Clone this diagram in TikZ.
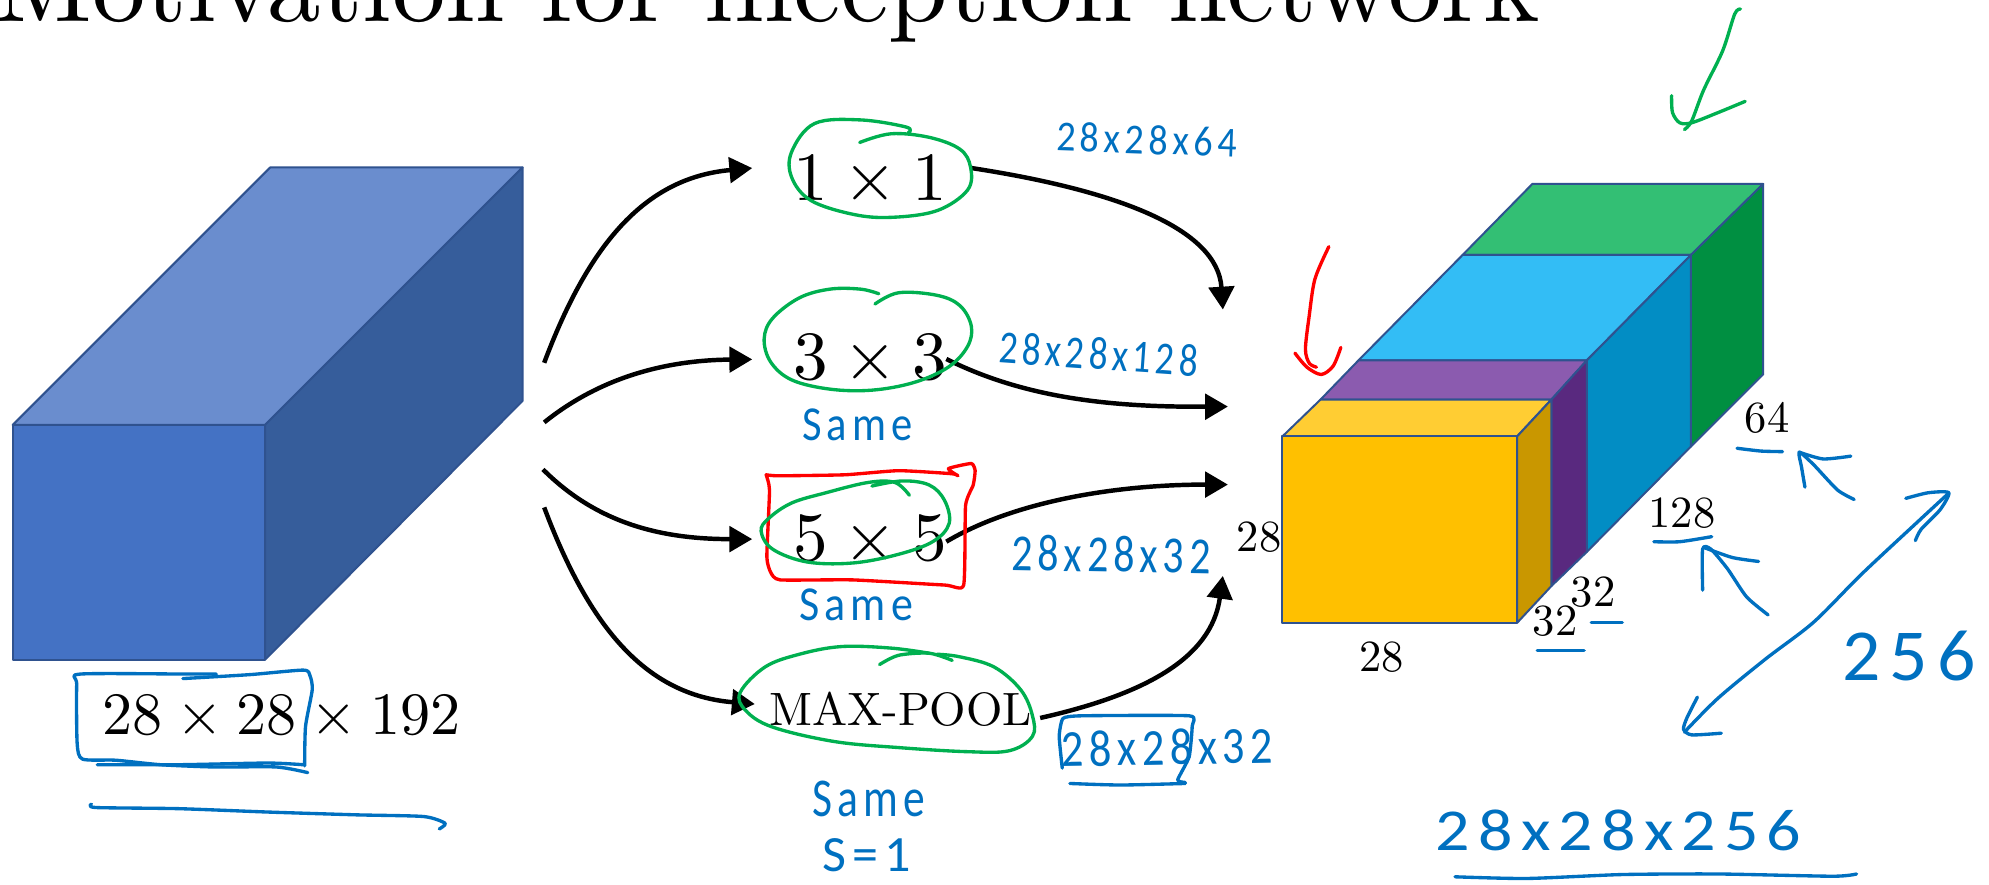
\documentclass[tikz,border=0pt]{standalone}
\usepackage{fontspec}
\usepackage{graphicx}
\usetikzlibrary{arrows.meta}
\newfontfamily\handwide[LetterSpace=12]{Carlito}
\newfontfamily\lmten{lmroman10-regular.otf}
\newcommand\bytimes{\hspace{.222em}×\hspace{.222em}}
\definecolor{edgeblue}{HTML}{2F528F}
\definecolor{inkblue}{HTML}{0070C0}
\definecolor{inkgreen}{HTML}{00B050}
\definecolor{inkred}{HTML}{FF0000}
\tikzset{
  face/.style={draw=edgeblue,line width=0.9pt,line join=round},
  flow/.style={draw=black,line width=2pt,-{Triangle[length=.36cm,width=.40cm]}},
  bluestroke/.style={draw=inkblue,line width=1.5pt,line cap=round,line join=round},
  greenstroke/.style={draw=inkgreen,line width=1.5pt,line cap=round,line join=round},
  redstroke/.style={draw=inkred,line width=1.5pt,line cap=round,line join=round},
  optext/.style={anchor=base,inner sep=0pt,font=\lmten\fontsize{31}{33}\selectfont},
  dimtext/.style={anchor=base,inner sep=0pt,font=\lmten\fontsize{20}{22}\selectfont},
  handtext/.style={inner sep=0pt,text=inkblue,font=\handwide},
  zoomone/.style={x=.00704cm,y=-.008888cm},
  zoomtwo/.style={shift={(551.8,63)},x=.006034cm,y=-.008086cm},
  zoomthree/.style={shift={(977.5,0)},x=.007532cm,y=-.008888cm},
}
\begin{document}
\begin{tikzpicture}[x=.02cm,y=-.02cm]
\path[use as bounding box] (0,0) rectangle (1568,697);
\clip (0,0) rectangle (1568,697);
\fill[white] (0,0) rectangle (1568,697);

\node[anchor=base west,inner sep=0pt,font=\lmten\fontsize{48}{50}\selectfont] (title) at (-5,17) {Motivation for inception network};

% input volume
\filldraw[face,fill={rgb,255:red,106;green,141;blue,206}] (10,335) -- (213,132) -- (412,132) -- (209,335) -- cycle;
\filldraw[face,fill={rgb,255:red,54;green,93;blue,155}] (209,335) -- (412,132) -- (412,316) -- (209,520) -- cycle;
\filldraw[face,fill={rgb,255:red,68;green,114;blue,196}] (10,335) rectangle (209,520);

% output volume
\filldraw[face,fill={rgb,255:red,51;green,191;blue,116}] (1153,201) -- (1208,145) -- (1390,145) -- (1333,201) -- cycle;
\filldraw[face,fill={rgb,255:red,0;green,143;blue,65}] (1333,201) -- (1390,145) -- (1390,295) -- (1333,352) -- cycle;
\filldraw[face,fill={rgb,255:red,51;green,189;blue,245}] (1071,284) -- (1153,201) -- (1333,201) -- (1251,284) -- cycle;
\filldraw[face,fill={rgb,255:red,2;green,141;blue,196}] (1251,284) -- (1333,201) -- (1333,352) -- (1251,435) -- cycle;
\filldraw[face,fill={rgb,255:red,139;green,91;blue,175}] (1041,315) -- (1071,284) -- (1251,284) -- (1223,315) -- cycle;
\filldraw[face,fill={rgb,255:red,89;green,41;blue,127}] (1223,315) -- (1251,284) -- (1251,435) -- (1223,462) -- cycle;
\filldraw[face,fill={rgb,255:red,255;green,205;blue,51}] (1011,344) -- (1041,315) -- (1223,315) -- (1196,344) -- cycle;
\filldraw[face,fill={rgb,255:red,201;green,151;blue,0}] (1196,344) -- (1223,315) -- (1223,462) -- (1196,491) -- cycle;
\filldraw[face,fill={rgb,255:red,255;green,192;blue,0}] (1011,344) rectangle (1196,491);

% printed labels
\node[optext,font=\lmten\fontsize{27}{30}\selectfont] (inlabel) at (222,579) {28\bytimes28\bytimes192};
\node[optext] (op1) at (686,158) {1\bytimes1};
\node[optext] (op3) at (686,299.5) {3\bytimes3};
\node[optext] (op5) at (686,442) {5\bytimes5};
\node[anchor=base,inner sep=0pt,font=\lmten\fontsize{21}{23}\selectfont] (pool) at (710,571.6) {MAX-POOL};
\node[dimtext] (dleft) at (992.6,434.6) {28};
\node[dimtext] (dbot) at (1089,529) {28};
\node[dimtext] (dthreeb) at (1226,501) {32};
\node[dimtext] (dthreet) at (1256,478) {32};
\node[dimtext] (dmid) at (1326,415.5) {128};
\node[dimtext] (dtop) at (1393,341) {64};

% connectors
\coordinate (s1) at (429,286);
\coordinate (s2) at (429,333);
\coordinate (s3) at (428,370);
\coordinate (s4) at (429,400);
\coordinate (t1) at (593,132.5);
\coordinate (t3) at (593,283.3);
\coordinate (t5) at (593,425);
\coordinate (tp) at (595,555);
\coordinate (o1) at (766,132.5);
\coordinate (o3) at (746,283);
\coordinate (o5) at (746,427);
\coordinate (op) at (820,566);
\coordinate (d1) at (964,244);
\coordinate (d3) at (968,320.5);
\coordinate (d5) at (968,382);
\coordinate (d4) at (964,454);
\draw[flow] (s1) .. controls (465,190) and (510,140) .. (t1);
\draw[flow] (s2) .. controls (470,300) and (520,284) .. (t3);
\draw[flow] (s3) .. controls (470,412) and (520,425) .. (t5);
\draw[flow] (s4) .. controls (465,496) and (510,548) .. (tp);
\draw[flow] (o1) .. controls (880,150) and (960,180) .. (d1);
\draw[flow] (o3) .. controls (810,315) and (880,321) .. (d3);
\draw[flow] (o5) .. controls (800,395) and (880,382) .. (d5);
\draw[flow] (op) .. controls (900,548) and (955,520) .. (d4);

% handwritten text
\node[handtext,rotate=-2] (h1) at (904,110) {\resizebox{2.84cm}{.46cm}{28x28x64}};
\node[handtext,rotate=-4] (h2) at (866,279) {\resizebox{3.14cm}{.5cm}{28x28x128}};
\node[handtext] (h3) at (676,335) {\resizebox{1.74cm}{.5cm}{Same}};
\node[handtext,rotate=-1] (h4) at (876,437) {\resizebox{3.14cm}{.56cm}{28x28x32}};
\node[handtext] (h5) at (675,477) {\resizebox{1.8cm}{.5cm}{Same}};
\node[handtext,rotate=1] (h6) at (920,589) {\resizebox{3.34cm}{.56cm}{28x28x32}};
\node[handtext] (h7) at (685,630) {\resizebox{1.78cm}{.56cm}{Same}};
\node[handtext] (h8) at (683,674) {\resizebox{1.4cm}{.52cm}{S=1}};
\node[handtext] (h9) at (1505,517) {\resizebox{2.1cm}{.78cm}{256}};
\node[handtext] (h10) at (1276,655) {\resizebox{5.76cm}{.64cm}{28x28x256}};

% ink, zoom 1 frame
\begin{scope}[zoomone]
\draw[bluestroke] plot[smooth,tension=.4] coordinates {(485,1197)(420,1197)(180,1197)(172,1215)(173,1320)(185,1348)(260,1350)(360,1358)(480,1362)(620,1362)(690,1372)};
\draw[bluestroke] plot[smooth,tension=.4] coordinates {(410,1205)(560,1198)(680,1190)(695,1200)(700,1225)(685,1290)(683,1360)};
\draw[bluestroke] plot[smooth,tension=.4] coordinates {(218,1358)(400,1358)(600,1355)(680,1358)};
\draw[bluestroke] plot[smooth,tension=.4] coordinates {(205,1428)(215,1434)(400,1436)(600,1442)(800,1447)(950,1450)(998,1462)(985,1472)};
\end{scope}

% ink, zoom 2 frame
\begin{scope}[zoomtwo]
\draw[greenstroke] plot[smooth,tension=.6] coordinates {(545,103)(540,92)(420,78)(300,85)(240,140)(240,190)(290,235)(400,262)(500,268)(620,255)(700,215)(708,170)(680,135)(600,112)(500,105)(418,122)};
\draw[greenstroke] plot[smooth,tension=.6] coordinates {(468,417)(420,408)(340,408)(260,425)(190,465)(168,505)(185,550)(240,585)(340,603)(450,605)(560,590)(650,560)(700,520)(710,480)(680,440)(620,420)(520,415)(458,437)};
\draw[redstroke] plot[smooth,tension=.3] coordinates {(173,770)(205,772)(380,770)(520,762)(660,768)(675,772)(650,758)(710,748)(720,762)(715,790)(695,830)(690,985)(640,985)(400,975)(210,975)(185,960)(175,930)(182,800)(173,770)};
\draw[greenstroke] plot[smooth,tension=.6] coordinates {(548,810)(510,785)(440,785)(330,805)(240,825)(180,855)(160,880)(190,915)(280,940)(400,942)(520,925)(610,900)(652,865)(640,820)(600,790)(530,782)(450,792)};
\draw[greenstroke] plot[smooth,tension=.6] coordinates {(600,1118)(500,1108)(370,1105)(260,1120)(170,1145)(105,1195)(120,1230)(190,1262)(350,1290)(520,1302)(700,1310)(810,1308)(870,1280)(870,1240)(840,1190)(770,1145)(680,1125)(620,1120)};
\draw[greenstroke] plot[smooth,tension=.5] coordinates {(660,1132)(600,1118)(520,1122)(470,1140)};
\draw[bluestroke] plot[smooth,tension=.3] coordinates {(948,1342)(940,1280)(950,1245)(1000,1240)(1280,1240)(1288,1260)(1280,1320)(1250,1365)(1270,1370)};
\draw[bluestroke] plot[smooth,tension=.4] coordinates {(968,1372)(1100,1375)(1270,1372)};
\end{scope}

% ink, zoom 3 frame
\begin{scope}[zoomthree]
\draw[greenstroke] plot[smooth,tension=.5] coordinates {(1047,16)(1035,25)(1010,90)(970,160)(945,215)(930,230)};
\draw[greenstroke] plot[smooth,tension=.5] coordinates {(903,170)(905,200)(920,218)(945,218)(1000,200)(1057,180)};
\draw[redstroke] plot[smooth,tension=.5] coordinates {(186,438)(157,495)(145,560)(137,620)(145,645)(160,652)};
\draw[redstroke] plot[smooth,tension=.5] coordinates {(115,627)(140,652)(170,665)(195,650)(211,617)};
\draw[bluestroke] plot[smooth,tension=.4] coordinates {(1040,796)(1090,801)(1135,802)};
\draw[bluestroke] plot[smooth,tension=.4] coordinates {(1285,887)(1250,870)(1200,825)(1170,803)(1175,830)(1182,865)};
\draw[bluestroke] plot[smooth,tension=.4] coordinates {(1170,803)(1220,815)(1278,810)};
\draw[bluestroke] plot[smooth,tension=.4] coordinates {(866,962)(920,962)(987,953)};
\draw[bluestroke] plot[smooth,tension=.4] coordinates {(1105,1092)(1060,1060)(1020,1010)(985,975)(968,975)(968,1048)};
\draw[bluestroke] plot[smooth,tension=.4] coordinates {(970,972)(1030,990)(1085,997)};
\draw[bluestroke] (735,1105) -- (800,1105);
\draw[bluestroke] (622,1155) -- (720,1155);
\draw[bluestroke] plot[smooth,tension=.5] coordinates {(930,1300)(1000,1240)(1100,1170)(1200,1105)(1300,1020)(1420,925)(1480,878)};
\draw[bluestroke] plot[smooth,tension=.4] coordinates {(1393,885)(1440,875)(1483,875)(1465,905)(1425,940)(1413,960)};
\draw[bluestroke] plot[smooth,tension=.4] coordinates {(957,1238)(935,1275)(928,1295)(945,1305)(1007,1302)};
\draw[bluestroke] plot[smooth,tension=.4] coordinates {(450,1557)(600,1560)(800,1553)(1000,1552)(1240,1556)(1290,1552)};
\end{scope}
\end{tikzpicture}
\end{document}
